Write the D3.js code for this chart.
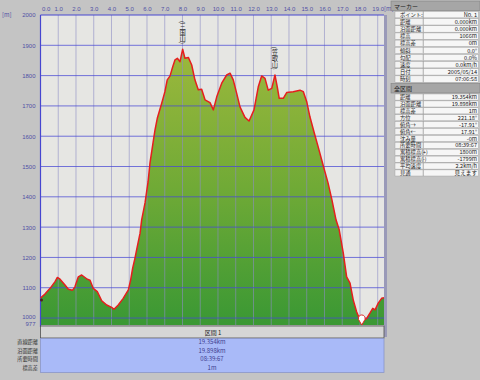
<!DOCTYPE html>
<html>
<head>
<meta charset="utf-8">
<script src="https://cdn.jsdelivr.net/npm/d3@7"></script>
<style>
  body { margin: 0; background: #c4c4c4; }
  svg { display: block; font-family: "Noto Sans CJK JP", "DejaVu Sans", sans-serif; }
</style>
</head>
<body>
<div id="chart"></div>
<script>
// Profile data (km / m)
const distKm = [0.0, 0.25, 0.54, 0.82, 0.95, 1.10, 1.38, 1.57, 1.81, 1.94, 2.13, 2.32, 2.64, 2.79, 2.97, 3.20,
  3.45, 3.73, 4.01, 4.14, 4.38, 4.66, 4.95, 5.08, 5.19, 5.32, 5.45, 5.61, 5.70, 5.89, 6.06, 6.17, 6.34, 6.45,
  6.58, 6.83, 7.01, 7.14, 7.30, 7.45, 7.58, 7.71, 7.86, 8.01, 8.14, 8.33, 8.52, 8.70, 8.89, 9.08, 9.27, 9.55,
  9.74, 9.93, 10.21, 10.49, 10.68, 10.86, 11.05, 11.24, 11.52, 11.75, 12.03, 12.27, 12.46, 12.65, 12.83, 13.03,
  13.21, 13.34, 13.45, 13.68, 13.87, 14.24, 14.62, 14.81, 15.00, 15.18, 15.41, 15.63, 15.92, 16.20, 16.42,
  16.65, 16.83, 17.06, 17.25, 17.44, 17.62, 17.81, 17.96, 18.10, 18.23, 18.38, 18.56, 18.72, 18.85, 19.03,
  19.22, 19.354];
const elevM = [1066, 1079, 1098, 1120, 1134, 1128, 1109, 1095, 1092, 1103, 1136, 1142, 1128, 1125, 1098, 1087,
  1057, 1043, 1035, 1029, 1043, 1065, 1093, 1126, 1164, 1197, 1235, 1280, 1324, 1380, 1449, 1512, 1578, 1620,
  1659, 1709, 1747, 1786, 1799, 1829, 1852, 1857, 1846, 1887, 1857, 1860, 1835, 1786, 1753, 1755, 1720, 1711,
  1687, 1730, 1775, 1802, 1808, 1786, 1742, 1697, 1662, 1650, 1687, 1763, 1799, 1791, 1752, 1758,
  1802, 1763, 1725, 1725, 1744, 1747, 1752, 1747, 1714, 1664, 1614, 1568, 1505, 1446, 1390,
  1324, 1291, 1214, 1136, 1115, 1060, 1021, 999, 980, 994, 999, 1016, 1032, 1027, 1049,
  1065, 1067];

const xTicks = [0, 1, 2, 3, 4, 5, 6, 7, 8, 9, 10, 11, 12, 13, 14, 15, 16, 17, 18, 19];
const yTicks = [977, 1000, 1100, 1200, 1300, 1400, 1500, 1600, 1700, 1800, 1900, 2000];

const peakNames = ["(三国山)", "(笠取山)"];
const peakKm = [8.01, 13.21];
const peakElev = [1887, 1802];

const markerKeys = ["ポイント:", "距離", "沿面距離", "標高", "標高差", "傾斜", "勾配", "速度", "日付", "時刻"];
const markerVals = ["No. 1", "0.000km", "0.000km", "1066m", "0m", "0.0°", "0.0%", "0.0km/h", "2005/05/14", "07:06:58"];
const totalKeys = ["距離", "沿面距離", "標高差", "方位", "俯角→", "俯角←", "沈み量", "所要時間", "累積標高(+)", "累積標高(-)", "平均速度", "見通"];
const totalVals = ["19.354km", "19.898km", "1m", "221.18°", "-17.91°", "17.91°", "-0m", "08:39:67", "1800m", "-1799m", "2.2km/h", "見えます"];
const sectionKeys = ["直線距離", "沿面距離", "所要時間", "標高差"];
const sectionVals = ["19.354km", "19.898km", "08:39:67", "1m"];

const W = 480, H = 380;
const plot = {left: 40.5, right: 384, top: 15, bottom: 325};

const svg = d3.select("#chart").append("svg")
  .attr("width", W).attr("height", H);

svg.append("rect").attr("width", W).attr("height", H).attr("fill", "#c4c4c4");

const x = d3.scaleLinear().domain([0, 19.354]).range([plot.left, plot.right]);
const y = d3.scaleLinear().domain([977, 2000]).range([plot.bottom, plot.top]);

// gradient for the fill
const grad = svg.append("defs").append("linearGradient")
  .attr("id", "fillGrad").attr("gradientUnits", "userSpaceOnUse")
  .attr("x1", 0).attr("x2", 0).attr("y1", plot.top + 35).attr("y2", plot.bottom);
grad.append("stop").attr("offset", "0%").attr("stop-color", "#9cb83c");
grad.append("stop").attr("offset", "50%").attr("stop-color", "#70aa36");
grad.append("stop").attr("offset", "100%").attr("stop-color", "#3a9834");

// plot background
svg.append("rect")
  .attr("x", plot.left).attr("y", plot.top)
  .attr("width", plot.right - plot.left).attr("height", plot.bottom - plot.top)
  .attr("fill", "#e6e6e3");

const profile = distKm.map((d, i) => ({km: d, m: elevM[i]}));

svg.append("path")
  .datum(profile)
  .attr("fill", "url(#fillGrad)")
  .attr("d", d3.area().x(d => x(d.km)).y0(plot.bottom).y1(d => y(d.m)));

// grid over the fill
svg.append("g").selectAll("line")
  .data(xTicks.slice(1))
  .join("line")
  .attr("x1", d => x(d)).attr("x2", d => x(d))
  .attr("y1", plot.top).attr("y2", plot.bottom)
  .attr("stroke", "#8c8cc4").attr("stroke-opacity", 0.6).attr("stroke-width", 1);

svg.append("g").selectAll("line")
  .data(yTicks.filter(d => d >= 1000 && d < 2000))
  .join("line")
  .attr("x1", plot.left).attr("x2", plot.right)
  .attr("y1", d => y(d)).attr("y2", d => y(d))
  .attr("stroke", "#4a4ad4").attr("stroke-opacity", 0.75).attr("stroke-width", 1);

// border
svg.append("line").attr("x1", plot.left).attr("x2", plot.right).attr("y1", plot.top).attr("y2", plot.top)
  .attr("stroke", "#4646d0").attr("stroke-width", 1.2);
svg.append("line").attr("x1", plot.left).attr("x2", plot.left).attr("y1", plot.top).attr("y2", plot.bottom + 2)
  .attr("stroke", "#4646d0").attr("stroke-width", 1.2);
svg.append("rect").attr("x", 384).attr("y", plot.top).attr("width", 3).attr("height", plot.bottom - plot.top + 12)
  .attr("fill", "#9a9ab8");

// profile line
svg.append("path")
  .datum(profile)
  .attr("fill", "none")
  .attr("stroke", "#e61e1e")
  .attr("stroke-width", 1.5)
  .attr("stroke-linejoin", "round")
  .attr("d", d3.line().x(d => x(d.km)).y(d => y(d.m)));

// axes
const xAxis = svg.append("g")
  .attr("transform", `translate(0,${plot.top - 2})`)
  .call(d3.axisTop(x).tickValues(xTicks).tickSize(0).tickPadding(2).tickFormat(d3.format(".1f")));
xAxis.select(".domain").remove();
xAxis.selectAll("text")
  .attr("fill", "#5050a4").style("font-size", "6px")
  .filter(d => d === 0).attr("text-anchor", "start").attr("dx", 1);

const yAxis = svg.append("g")
  .attr("transform", `translate(${plot.left - 4},0)`)
  .call(d3.axisLeft(y).tickValues(yTicks).tickSize(0).tickPadding(1).tickFormat(d3.format("d")));
yAxis.select(".domain").remove();
yAxis.selectAll("text")
  .attr("fill", "#5050a4").style("font-size", "6px")
  .attr("dy", d => (d === 1000 || d === 977) ? "0.1em" : "0.32em");

svg.append("text").attr("x", 2).attr("y", 17).attr("fill", "#5050a4")
  .style("font-size", "6px").text("[m]");
svg.append("text").attr("x", 384).attr("y", 11).attr("fill", "#5050a4")
  .style("font-size", "6px").text("[m]");

// peak names (vertical)
svg.append("g").selectAll("text")
  .data(peakNames)
  .join("text")
  .attr("x", (d, i) => x(peakKm[i]))
  .attr("y", (d, i) => y(peakElev[i]) - 5)
  .attr("writing-mode", "tb")
  .style("text-orientation", "mixed")
  .attr("text-anchor", "end")
  .attr("fill", "#303030")
  .style("font-size", "6.3px")
  .text(d => d);

// start marker and lowest point pin
svg.append("circle").attr("cx", x(0) + 1).attr("cy", y(elevM[0]) + 2).attr("r", 1.5).attr("fill", "#502020");
const lowI = elevM.indexOf(d3.min(elevM));
const px = x(distKm[lowI]), py = plot.bottom;
svg.append("path")
  .attr("d", `M${px},${py} L${px - 3.2},${py - 5.5} A3.4,3.4 0 1 1 ${px + 3.2},${py - 5.5} Z`)
  .attr("fill", "#ffffff").attr("stroke", "#e02828").attr("stroke-width", 1);

// section bar
svg.append("rect").attr("x", plot.left).attr("y", 326).attr("width", plot.right - plot.left).attr("height", 12)
  .attr("fill", "#d6d6d6").attr("stroke", "#505050").attr("stroke-width", 0.8);
svg.append("text").attr("x", 213).attr("y", 332.5).attr("text-anchor", "middle")
  .attr("dominant-baseline", "central").attr("fill", "#202020").style("font-size", "6px").text("区間 1");

svg.append("rect").attr("x", plot.left).attr("y", 338.5).attr("width", plot.right - plot.left).attr("height", 34)
  .attr("fill", "#a9baf8").attr("stroke", "#8a96c8").attr("stroke-width", 0.8);

const secY = d3.scalePoint().domain(sectionKeys).range([341.5, 367.5]);
svg.append("g").selectAll("text")
  .data(sectionKeys)
  .join("text")
  .attr("x", 38).attr("y", d => secY(d)).attr("text-anchor", "end")
  .attr("dominant-baseline", "central").attr("fill", "#303030").style("font-size", "5.2px")
  .text(d => d);
svg.append("g").selectAll("text")
  .data(sectionVals)
  .join("text")
  .attr("x", 212).attr("y", (d, i) => secY(sectionKeys[i])).attr("text-anchor", "middle")
  .attr("dominant-baseline", "central").attr("fill", "#404090").style("font-size", "6px")
  .text(d => d);

// right side tables
function drawTable(title, keys, vals, top, rowH) {
  const g = svg.append("g");
  g.append("rect").attr("x", 391).attr("y", top).attr("width", 89).attr("height", 9.5)
    .attr("fill", "#a6a6a6").attr("stroke", "#808080").attr("stroke-width", 0.6);
  g.append("text").attr("x", 394).attr("y", top + 5).attr("dominant-baseline", "central")
    .attr("fill", "#202020").style("font-size", "6px").text(title);
  const rowY = d3.scaleBand().domain(keys).range([top + 10.5, top + 10.5 + keys.length * rowH]);
  const rows = g.selectAll("g.row").data(keys).join("g").attr("class", "row");
  rows.append("rect").attr("x", 395).attr("y", d => rowY(d)).attr("width", 28).attr("height", rowH - 0.8)
    .attr("fill", "#f2f2f2").attr("stroke", "#9a9a9a").attr("stroke-width", 0.4);
  rows.append("rect").attr("x", 423.5).attr("y", d => rowY(d)).attr("width", 55).attr("height", rowH - 0.8)
    .attr("fill", "#f6f6f6").attr("stroke", "#9a9a9a").attr("stroke-width", 0.4);
  rows.append("text").attr("x", 400).attr("y", d => rowY(d) + rowH / 2 - 0.3)
    .attr("dominant-baseline", "central").attr("fill", "#202020").style("font-size", "5.3px")
    .text(d => d);
  rows.append("text").attr("x", 477).attr("y", d => rowY(d) + rowH / 2 - 0.3).attr("text-anchor", "end")
    .attr("dominant-baseline", "central").attr("fill", "#202020").style("font-size", "5.6px")
    .text((d, i) => vals[i]);
}
drawTable("マーカー", markerKeys, markerVals, 1, 7.15);
drawTable("全区間", totalKeys, totalVals, 83.5, 6.9);
</script>
</body>
</html>
